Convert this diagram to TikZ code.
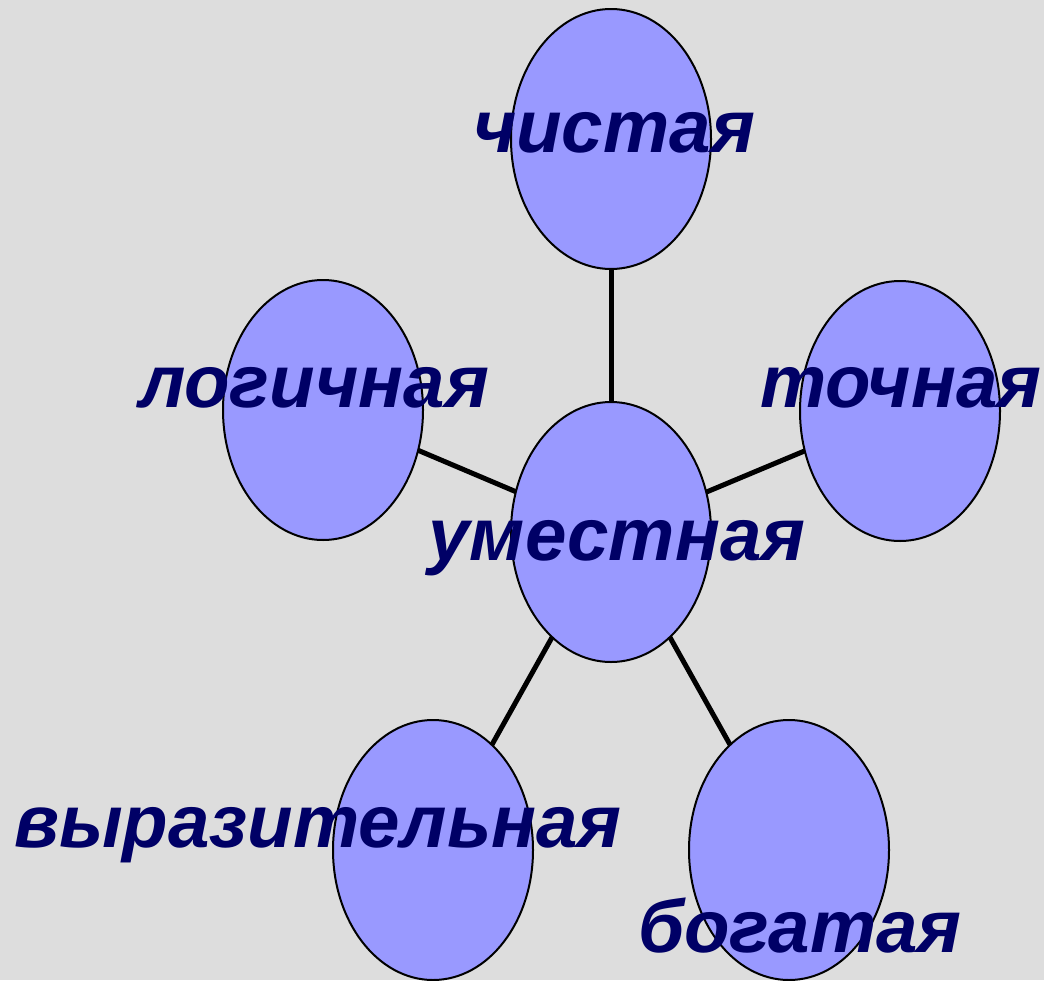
\documentclass[tikz,border=0pt]{standalone}
\usepackage{fontspec}
\setmainfont{Liberation Sans}
\usetikzlibrary{shapes.geometric}
\definecolor{bgc}{HTML}{DDDDDD}
\definecolor{ellc}{HTML}{9999FF}
\definecolor{txtc}{HTML}{000066}
\pgfdeclarelayer{back}
\pgfdeclarelayer{mid}
\pgfsetlayers{back,mid,main}
\begin{document}
\begin{tikzpicture}[x=1pt,y=-1pt,
  bubble/.style={ellipse,draw=black,line width=2pt,fill=ellc,minimum width=200pt,minimum height=260pt,inner sep=0pt},
  word/.style={anchor=base,inner sep=0pt,text=txtc,font=\fontsize{74.5}{80}\selectfont\bfseries\itshape},
  link/.style={line width=5pt,draw=black}]
\begin{pgfonlayer}{back}
\fill[bgc] (0,0) rectangle (1044,980);
\end{pgfonlayer}
\useasboundingbox (0,0) rectangle (1044,980);
\node[bubble] (c) at (611,532) {};
\node[bubble] (t) at (611,139) {};
\node[bubble] (l) at (323,410) {};
\node[bubble] (r) at (900,411) {};
\node[bubble] (bl) at (433,850) {};
\node[bubble] (br) at (789,850) {};
\begin{pgfonlayer}{mid}
\draw[link] (c.center) -- (t.center);
\draw[link] (c.center) -- (l.center);
\draw[link] (c.center) -- (r.center);
\draw[link] (c.center) -- (bl.center);
\draw[link] (c.center) -- (br.center);
\end{pgfonlayer}
\node[word] (wt) at (614,152) {чистая};
\node[word] (wc) at (617,560) {уместная};
\node[word] (wl) at (314,407) {логичная};
\node[word] (wr) at (901,407) {точная};
\node[word] (wbl) at (318,847) {выразительная};
\node[word] (wbr) at (800,952) {богатая};
\end{tikzpicture}
\end{document}
